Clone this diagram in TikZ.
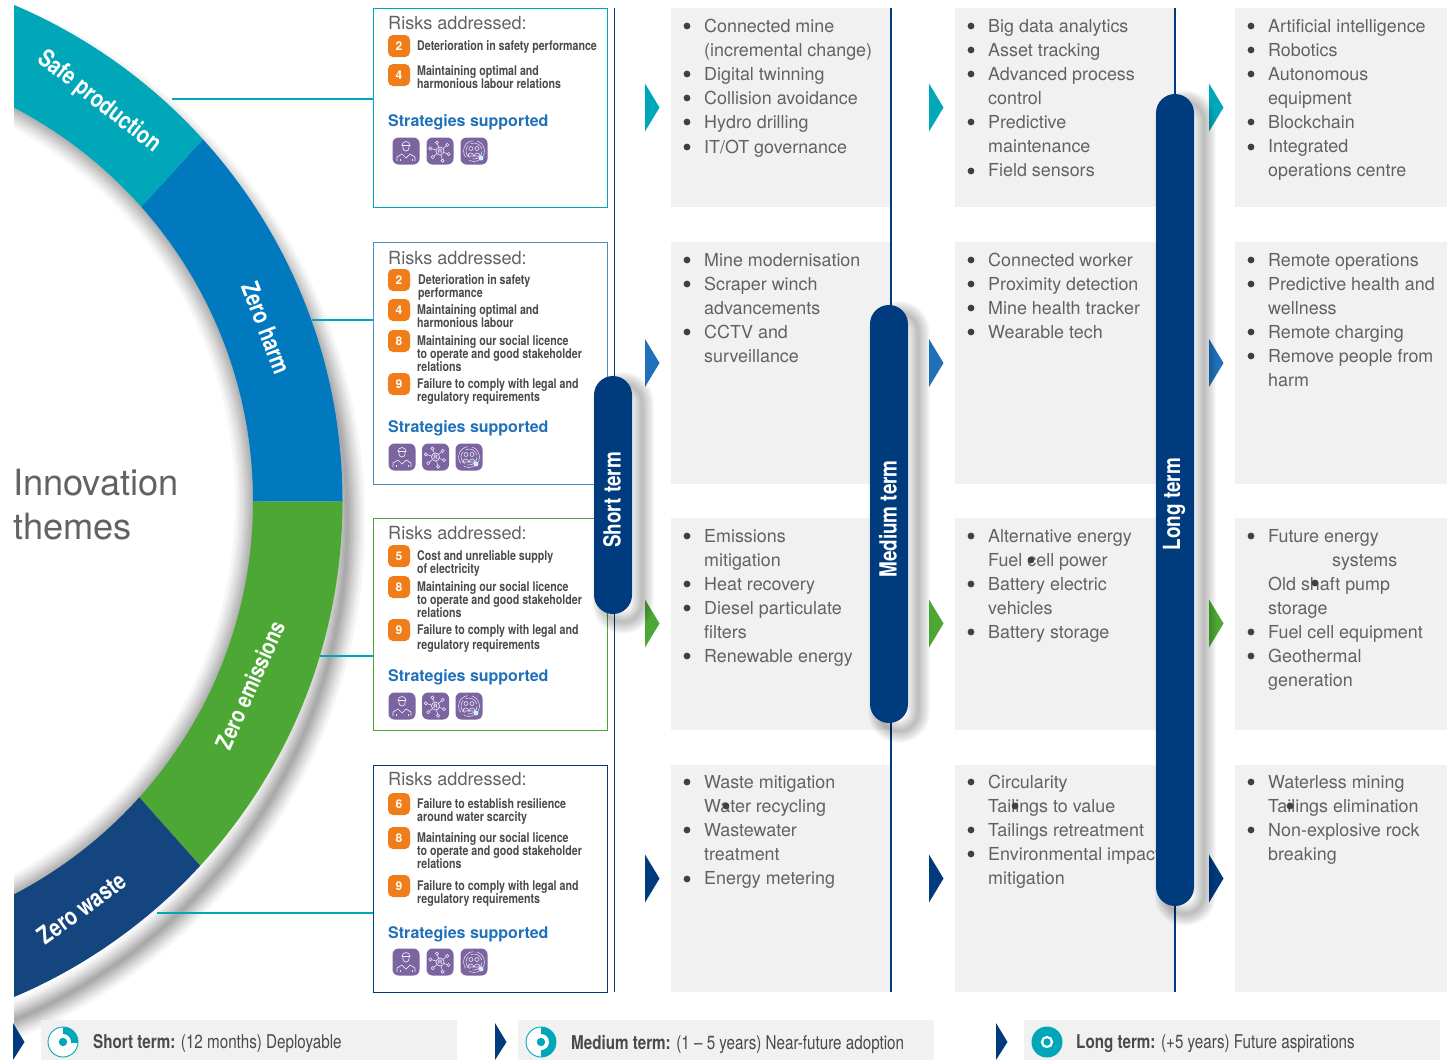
\documentclass[tikz,border=0pt]{standalone}
\usepackage{fontspec}
\setmainfont{TeX Gyre Heros}
\newfontfamily\condf[FakeStretch=0.8]{TeX Gyre Heros}
\usetikzlibrary{positioning}
\definecolor{cteal}{HTML}{00A7B9}
\definecolor{cblue}{HTML}{0079BE}
\definecolor{cgreen}{HTML}{4CA735}
\definecolor{cnavy}{HTML}{15457F}
\definecolor{cpill}{HTML}{003C7D}
\definecolor{cgrey}{HTML}{F1F1F1}
\definecolor{ctext}{HTML}{626262}
\definecolor{cdark}{HTML}{4A4A4A}
\definecolor{corange}{HTML}{F07D19}
\definecolor{cpurple}{HTML}{7B64A0}
\definecolor{cstrat}{HTML}{1F70B8}
\definecolor{cline}{HTML}{EDE8F5}
\tikzset{
worker/.pic={
\draw[cline,line width=.7] (-4,-5.5) arc (180:360:4) -- cycle;
\draw[cline,line width=.7] (-3,-5) -- (-3,-3) arc (180:0:3) -- (3,-5);
\draw[cline,line width=.7] (-9,10) -- (-9,6) -- (-4,3) -- (0,7) -- (4,3) -- (9,6) -- (9,10);
\draw[cline,line width=.5] (-6,10) -- (-6,8) (6,10) -- (6,8);
},
netw/.pic={
\draw[cline,line width=.7] (0,0) circle (4);
\node[text=cline,font=\fontsize{6}{6}\bfseries\selectfont,inner sep=0] at (0,0) {R};
\foreach \a/\r in {20/9,75/10,140/9.5,195/10,250/9,320/9.5}{
\draw[cline,line width=.6] (\a:4) -- (\a:\r-1.6);
\draw[cline,line width=.6] (\a:\r) circle (1.6);
}
},
ringp/.pic={
\draw[cline,line width=.5,dash pattern=on 22pt off 4pt] (0,0) circle (10.5);
\draw[cline,line width=.5,dash pattern=on 14pt off 3pt] (0,0) circle (8);
\draw[cline,line width=.6] (-3,-2.5) circle (2);
\draw[cline,line width=.6] (3,-2.5) circle (2);
\draw[cline,line width=.6] (-6.2,5) arc (180:360:3) -- cycle;
\draw[cline,line width=.6] (0.2,5) arc (180:360:3) -- cycle;
\fill[cyan!20] (7,7) circle (2.5);
}
}
\newcommand{\pillshade}[4]{
\foreach \w in {2,4,...,24}{
\draw[black,opacity=.022,line width=\w,rounded corners=19] (#1+10,#2+8) rectangle (#3+10,#4+8);
}
}
\begin{document}
\begin{tikzpicture}[x=1pt,y=-1pt]
\tikzstyle{every node}=[inner sep=0];
\tikzstyle{lst}=[anchor=north west,align=left,text=ctext,execute at begin node=\strut,font=\fontsize{17.9}{24.1}\selectfont];
\tikzstyle{rbox}=[draw,line width=1.4,anchor=north west,minimum width=234];
\tikzstyle{head}=[anchor=west,text=ctext,font=\fontsize{18.1}{22}\selectfont];
\tikzstyle{strat}=[anchor=west,text=cstrat,font=\fontsize{16}{20}\bfseries\selectfont];
\tikzstyle{badge}=[fill=corange,rounded corners=5,minimum size=22,text=white,font=\fontsize{12}{12}\bfseries\selectfont];
\tikzstyle{rtxt}=[anchor=north west,align=left,text=cdark,execute at begin node=\strut,font=\condf\fontsize{13.3}{13.3}\bfseries\selectfont];
\tikzstyle{icon}=[fill=cpurple,rounded corners=6,minimum size=27];
\tikzstyle{ringtxt}=[text=white,font=\condf\fontsize{24.5}{24}\bfseries\selectfont];
\tikzstyle{pill}=[fill=cpill,rounded corners=19,minimum height=38];
\tikzstyle{pilltxt}=[text=white,rotate=90,font=\condf\fontsize{23.6}{23}\bfseries\selectfont];
\tikzstyle{band}=[fill=cgrey,anchor=north west,minimum width=416,minimum height=40];
\tikzstyle{legtxt}=[anchor=west,text=cdark,font=\condf\fontsize{19}{20}\selectfont];
\tikzstyle{conn}=[cteal,line width=1.2];
\useasboundingbox (0,0) rectangle (1447,1060);

\begin{scope}
\clip (14,-20) rectangle (400,1060);
\foreach \w in {3,6,9,12,15,18,22,26,30,36}{
\draw[black,opacity=.04,line width=\w] (-192,522) circle (539);
\draw[black,opacity=.035,line width=\w] (-190,501) circle (443);
}
\begin{scope}
\clip (100,252) -- (260,77) -- (260,-100) -- (-300,-100) -- (-300,252) -- cycle;
\fill[cteal,even odd rule] (-196,501) circle (538.5) (-190,501) circle (443);
\end{scope}
\begin{scope}
\clip (100,252) -- (260,77) -- (500,77) -- (500,501.5) -- (100,501.5) -- cycle;
\fill[cblue,even odd rule] (-196,501) circle (538.5) (-190,501) circle (443);
\end{scope}
\begin{scope}
\clip (100,501.5) -- (500,501.5) -- (500,933) -- (260,933) -- (100,753) -- cycle;
\fill[cgreen,even odd rule] (-196,501) circle (538.5) (-190,501) circle (443);
\end{scope}
\begin{scope}
\clip (100,753) -- (260,933) -- (260,1200) -- (-300,1200) -- (-300,753) -- cycle;
\fill[cnavy,even odd rule] (-196,501) circle (538.5) (-190,501) circle (443);
\end{scope}
\end{scope}
\node[ringtxt,rotate=-38] (safe) at (99,102) {Safe production};
\node[ringtxt,rotate=-69] (harm) at (266,328) {Zero harm};
\node[ringtxt,rotate=66,font=\condf\fontsize{23.4}{24}\bfseries\selectfont] (emis) at (250,685) {Zero emissions};
\node[ringtxt,rotate=36] (wast) at (82,908) {Zero waste};
\node[anchor=north west,align=left,text=ctext,execute at begin node=\strut,font=\fontsize{36.2}{44}\selectfont] (inno) at (13,469) {Innovation\\themes};

\foreach \x/\w in {671/220,955/220,1235/212}{
\fill[cgrey] (\x,8) rectangle ++(\w,199);
\fill[cgrey] (\x,242) rectangle ++(\w,242);
\fill[cgrey] (\x,518) rectangle ++(\w,212);
\fill[cgrey] (\x,765) rectangle ++(\w,227);
}
\node[rbox,draw=cteal,minimum height=199] (box1) at (373,8) {};
\node[rbox,draw=cstrat!80,minimum height=242] (box2) at (373,242) {};
\node[rbox,draw=cgreen,minimum height=212] (box3) at (373,518) {};
\node[rbox,draw=cpill,minimum height=227] (box4) at (373,765) {};
\coordinate (t1) at (172,99);
\coordinate (t2) at (312,320);
\coordinate (t3) at (320,656);
\coordinate (t4) at (157,913);
\draw[conn] (t1) -- (t1 -| box1.west);
\draw[conn] (t2) -- (t2 -| box2.west);
\draw[conn] (t3) -- (t3 -| box3.west);
\draw[conn] (t4) -- (t4 -| box4.west);
\coordinate (vs) at (614.5,8);
\coordinate (vm) at (891,8);
\coordinate (vl) at (1175,8);
\draw[cpill,line width=1.2] (vs) -- ++(0,984);
\draw[cpill,line width=1.2] (vm) -- ++(0,984);
\draw[cpill,line width=1.2] (vl) -- ++(0,984);

\node[head] (h1) at (388,23) {Risks addressed:};
\node[badge] (b12) at (399,46) {2};
\node[rtxt] (t12) at (417,40) {Deterioration in safety performance};
\node[badge] (b14) at (399,75) {4};
\node[rtxt] (t14) at (417,65) {Maintaining optimal and\\harmonious labour relations};
\node[strat] (s1) at (388,122) {Strategies supported};

\node[head] (h2) at (388,258) {Risks addressed:};
\node[badge] (b22) at (399,280) {2};
\node[rtxt] (t22) at (418,274) {Deterioration in safety\\performance};
\node[badge] (b24) at (399,310) {4};
\node[rtxt] (t24) at (417,304) {Maintaining optimal and\\harmonious labour};
\node[badge] (b28) at (399,341) {8};
\node[rtxt] (t28) at (417,335) {Maintaining our social licence\\to operate and good stakeholder\\relations};
\node[badge] (b29) at (399,384) {9};
\node[rtxt] (t29) at (417,378) {Failure to comply with legal and\\regulatory requirements};
\node[strat] (s2) at (388,428) {Strategies supported};

\node[head] (h3) at (388,533) {Risks addressed:};
\node[badge] (b35) at (399,556) {5};
\node[rtxt] (t35) at (417,550) {Cost and unreliable supply\\of electricity};
\node[badge] (b38) at (399,587) {8};
\node[rtxt] (t38) at (417,581) {Maintaining our social licence\\to operate and good stakeholder\\relations};
\node[badge] (b39) at (399,630) {9};
\node[rtxt] (t39) at (417,624) {Failure to comply with legal and\\[2pt]regulatory requirements};
\node[strat] (s3) at (388,677) {Strategies supported};

\node[head] (h4) at (388,779) {Risks addressed:};
\node[badge] (b46) at (399,804) {6};
\node[rtxt] (t46) at (417,798) {Failure to establish resilience\\around water scarcity};
\node[badge] (b48) at (399,838) {8};
\node[rtxt] (t48) at (417,832) {Maintaining our social licence\\to operate and good stakeholder\\relations};
\node[badge] (b49) at (399,886) {9};
\node[rtxt] (t49) at (417,880) {Failure to comply with legal and\\regulatory requirements};
\node[strat] (s4) at (388,934) {Strategies supported};

\foreach \n/\x/\y/\d in {1/406/151/34,2/402/457/33.5,3/402/706/33.5,4/406/962/34}{
\node[icon] (ia\n) at (\x,\y) {};
\node[icon] (ib\n) at (\x+\d,\y) {};
\node[icon] (ic\n) at (\x+2*\d,\y) {};
\pic at (ia\n) {worker};
\pic at (ib\n) {netw};
\pic at (ic\n) {ringp};
}

\node[lst] (c11) at (704,19) {Connected mine\\(incremental change)\\Digital twinning\\Collision avoidance\\Hydro drilling\\IT/OT governance};
\node[lst] (c12) at (988,19) {Big data analytics\\Asset tracking\\Advanced process\\control\\Predictive\\maintenance\\Field sensors};
\node[lst] (c13) at (1268,19) {Artificial intelligence\\Robotics\\Autonomous\\equipment\\Blockchain\\Integrated\\operations centre};
\node[lst] (c21) at (704,253) {Mine modernisation\\Scraper winch\\advancements\\CCTV and\\surveillance};
\node[lst] (c22) at (988,253) {Connected worker\\Proximity detection\\Mine health tracker\\Wearable tech};
\node[lst] (c23) at (1268,253) {Remote operations\\Predictive health and\\wellness\\Remote charging\\Remove people from\\harm};
\node[lst] (c31) at (704,529) {Emissions\\mitigation\\Heat recovery\\Diesel particulate\\filters\\Renewable energy};
\node[lst] (c32) at (988,529) {Alternative energy\\Fuel cell power\\Battery electric\\vehicles\\Battery storage};
\node[lst] (c33) at (1268,529) {Future energy\\\hspace*{64pt}systems\\Old shaft pump\\storage\\Fuel cell equipment\\Geothermal\\generation};
\node[lst] (c41) at (704,775) {Waste mitigation\\Water recycling\\Wastewater\\treatment\\Energy metering};
\node[lst] (c42) at (988,775) {Circularity\\Tailings to value\\Tailings retreatment\\Environmental impact\\mitigation};
\node[lst] (c43) at (1268,775) {Waterless mining\\Tailings elimination\\Non-explosive rock\\breaking};

\foreach \x/\y in {687/26,687/74,687/98,687/122,687/147,687/260,687/284,687/332,687/536,687/584,687/608,687/656,687/782,726/806,687/830,687/879,
971/26,971/50,971/74,971/122,971/171,971/260,971/284,971/308,971/332,971/536,1031/560,971/584,971/632,971/782,1015/806,971/830,971/854,
1251/26,1251/50,1251/74,1251/122,1251/147,1251/260,1251/284,1251/332,1251/356,1251/536,1315/583,1251/632,1251/656,1251/782,1290/806,1251/830}{
\fill[black!75] (\x,\y) circle (3.4);
}

\foreach \c/\y in {cteal/107.5,cstrat/363,cgreen/623.5,cpill/878.5}{
\foreach \x in {645,929,1209}{
\fill[\c] (\x,\y-24) -- (\x+14.5,\y) -- (\x,\y+24) -- cycle;
}
}

\pillshade{594}{376}{632}{614}
\pillshade{870}{305}{908}{723}
\pillshade{1156}{94}{1194}{906}
\node[pill,minimum width=38,minimum height=238] (short) at (613,495) {};
\node[pill,minimum width=38,minimum height=418] (medium) at (889,514) {};
\node[pill,minimum width=38,minimum height=812] (long) at (1175,500) {};
\node[pilltxt] (shortl) at (612,500) {Short term};
\node[pilltxt] (mediuml) at (888,519) {Medium term};
\node[pilltxt] (longl) at (1174,504) {Long term};

\node[band] (b1) at (41,1020) {};
\node[band] (b2) at (518,1020) {};
\node[band] (b3) at (1024,1020) {};
\foreach \x in {13,495,996}{
\fill[cpill] (\x,1023) -- (\x+11.5,1042) -- (\x,1060) -- cycle;
}
\node[circle,draw=cteal,line width=.9,fill=white,minimum size=30] (i1) at (63,1042) {};
\begin{scope}
\clip (63,1042) rectangle (80,1025);
\fill[cteal] (i1.center) circle (15);
\end{scope}
\fill[white] (i1.center) circle (8);
\fill[cteal] (i1.center) circle (4.2);
\node[circle,draw=cteal,line width=.9,fill=white,minimum size=30] (i2) at (541,1042) {};
\begin{scope}
\clip (541,1025) rectangle (560,1060);
\fill[cteal] (i2.center) circle (15);
\end{scope}
\fill[white] (i2.center) circle (8);
\fill[cteal] (i2.center) circle (4.2);
\node[circle,fill=cteal,minimum size=31] (i3) at (1047,1042) {};
\draw[white,line width=2.2] (i3.center) circle (5);
\node[legtxt] (l1) at (93,1044) {\textbf{Short term:} (12 months) Deployable};
\node[legtxt] (l2) at (571,1044) {\textbf{Medium term:} (1 – 5 years) Near-future adoption};
\node[legtxt] (l3) at (1076,1044) {\textbf{Long term:} (+5 years) Future aspirations};
\end{tikzpicture}
\end{document}
